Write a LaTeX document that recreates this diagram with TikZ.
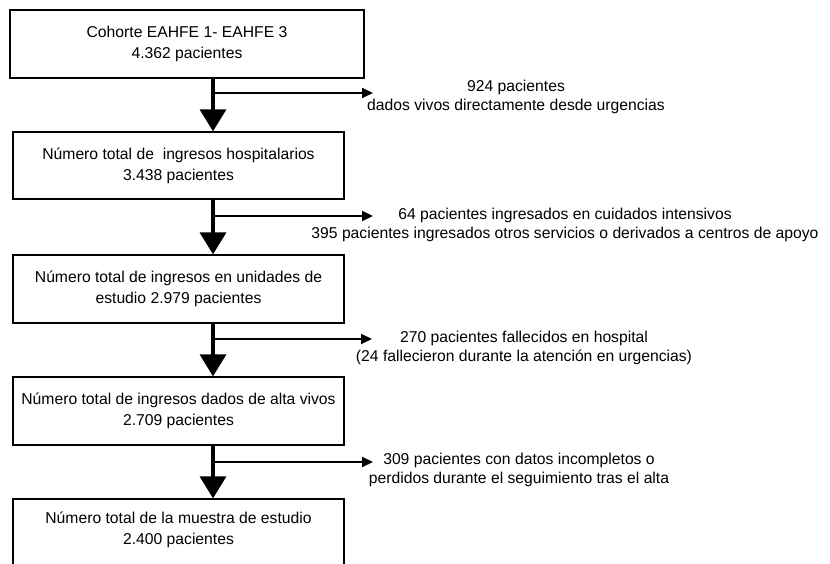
\documentclass[tikz,border=0pt]{standalone}
\usepackage{fontspec}
\setmainfont{Liberation Sans}
\usetikzlibrary{arrows.meta}

\tikzset{
  stage/.style={rectangle, draw, line width=1.3pt, align=center,
                inner sep=0pt, minimum width=331pt, minimum height=67pt,
                font=\fontsize{15.7}{21}\selectfont},
  note/.style={align=center, inner sep=0pt,
               font=\fontsize{15.7}{18.5}\selectfont},
  mainflow/.style={line width=3.5pt, -{Triangle[width=26pt,length=22pt]}},
  sideflow/.style={line width=2pt, -{Triangle[width=10pt,length=11pt]}}
}

\begin{document}
\begin{tikzpicture}[x=1pt, y=-1pt]
\useasboundingbox (0,0) rectangle (830,564);

% boxes of the flow
\node[stage, minimum width=354pt, minimum height=68pt] (coh) at (187,44)
      {Cohorte EAHFE 1- EAHFE 3\\4.362 pacientes};
\node[stage] (hosp) at (178.5,165.5)
      {Número total de\ \ ingresos hospitalarios\\3.438 pacientes};
\node[stage, minimum height=68pt] (unid) at (178.5,289)
      {Número total de ingresos en unidades de\\estudio 2.979 pacientes};
\node[stage, minimum height=68pt] (alta) at (178.5,411)
      {Número total de ingresos dados de alta vivos\\2.709 pacientes};
\node[stage, minimum height=72pt, text depth=13pt] (muestra) at (178.5,535)
      {Número total de la muestra de estudio\\2.400 pacientes};

% exclusions
\node[note] (n1) at (516,97)
      {924 pacientes\\dados vivos directamente desde urgencias};
\node[note] (n2) at (565,225)
      {64 pacientes ingresados en cuidados intensivos\\395 pacientes ingresados otros servicios o derivados a centros de apoyo};
\node[note] (n3) at (524,348)
      {270 pacientes fallecidos en hospital\\(24 fallecieron durante la atención en urgencias)};
\node[note] (n4) at (519,470)
      {309 pacientes con datos incompletos o\\perdidos durante el seguimiento tras el alta};

\coordinate (spine) at (213,0);
\coordinate (j1) at (213,93);  \coordinate (e1) at (373,93);
\coordinate (j2) at (213,216); \coordinate (e2) at (373,216);
\coordinate (j3) at (213,339); \coordinate (e3) at (372,339);
\coordinate (j4) at (213,462); \coordinate (e4) at (373,462);

\draw[mainflow] (coh.south -| spine) -- (hosp.north -| spine);
\draw[mainflow] (hosp.south -| spine) -- (unid.north -| spine);
\draw[mainflow] (unid.south -| spine) -- (alta.north -| spine);
\draw[mainflow] (alta.south -| spine) -- (muestra.north -| spine);

\draw[sideflow] (j1) -- (e1);
\draw[sideflow] (j2) -- (e2);
\draw[sideflow] (j3) -- (e3);
\draw[sideflow] (j4) -- (e4);
\end{tikzpicture}
\end{document}
